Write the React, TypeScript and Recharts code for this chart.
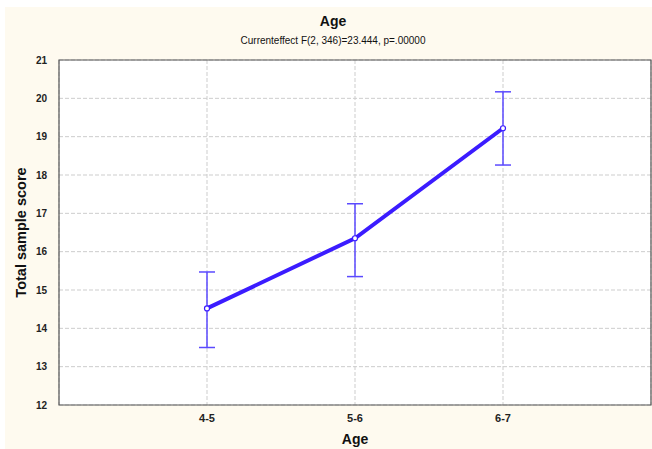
import React from "react"
import { ComposedChart, Line, ErrorBar, XAxis, YAxis, CartesianGrid, ReferenceArea, Label } from "recharts"

// Age groups and mean total sample score with ±CI whiskers
const ageGroups = ["4-5", "5-6", "6-7"]
const means = [14.52, 16.35, 19.22]
const lower = [13.5, 15.35, 18.26]
const upper = [15.47, 17.25, 20.17]
const yTicks = [12, 13, 14, 15, 16, 17, 18, 19, 20, 21]

const data = ageGroups.map((name, i) => ({
  pos: i + 1,
  name,
  mean: means[i],
  err: [means[i] - lower[i], upper[i] - means[i]],
}))

const font = "'Liberation Sans Narrow', 'Liberation Sans', Arial, sans-serif"
const lineColor = "#3b1cff"
const whiskerColor = "#5b4aff"

const Dot = (props: any) => {
  const { cx, cy } = props
  return <circle cx={cx} cy={cy} r={2.5} fill="#fff" stroke={lineColor} strokeWidth={1.2} />
}

export default function App() {
  return (
    <div style={{ position: "absolute", left: 0, top: 0, width: 652, height: 449, background: "#fff" }}>
      <div style={{ position: "absolute", left: 5, top: 7, width: 647, height: 442, background: "#fefaef", fontFamily: font }}>
        <div style={{ position: "absolute", left: 0, width: 656, top: 6, textAlign: "center", fontSize: 14, fontWeight: "bold", color: "#111" }}>
          Age
        </div>
        <div style={{ position: "absolute", left: 0, width: 656, top: 28, textAlign: "center", fontSize: 10, color: "#111" }}>
          Currenteffect F(2, 346)=23.444, p=.00000
        </div>
        <ComposedChart
          width={647}
          height={442}
          data={data}
          margin={{ top: 53, right: 1, bottom: 0, left: 0 }}
          style={{ position: "absolute", left: 0, top: 0 }}
        >
          <CartesianGrid fill="#fff" stroke="#cdcdcd" strokeDasharray="4 2" />
          <XAxis
            type="number"
            dataKey="pos"
            domain={[0, 4]}
            ticks={[1, 2, 3]}
            tickFormatter={(v: number) => ageGroups[v - 1]}
            axisLine={false}
            tickLine={false}
            tick={{ fontSize: 11, fontWeight: "bold", fill: "#222", fontFamily: font }}
            tickMargin={3}
            height={44}
          >
            <Label value="Age" position="insideBottom" offset={5} style={{ fontSize: 14, fontWeight: "bold", fill: "#111", fontFamily: font }} />
          </XAxis>
          <YAxis
            type="number"
            domain={[12, 21]}
            ticks={yTicks}
            interval={0}
            axisLine={false}
            tickLine={false}
            tick={{ fontSize: 10, fontWeight: "bold", fill: "#222", fontFamily: font }}
            tickMargin={6}
            width={54}
          >
            <Label
              value="Total sample score"
              angle={-90}
              position="insideLeft"
              offset={16}
              style={{ textAnchor: "middle", fontSize: 14.5, fontWeight: "bold", fill: "#111", fontFamily: font }}
            />
          </YAxis>
          <ReferenceArea x1={0} x2={4} y1={12} y2={21} fill="none" stroke="#555" strokeWidth={1.2} />
          <Line
            dataKey="mean"
            stroke={lineColor}
            strokeWidth={4}
            dot={<Dot />}
            activeDot={false}
            isAnimationActive={false}
          >
            <ErrorBar dataKey="err" width={8} stroke={whiskerColor} strokeWidth={1.5} isAnimationActive={false} />
          </Line>
        </ComposedChart>
      </div>
    </div>
  )
}
